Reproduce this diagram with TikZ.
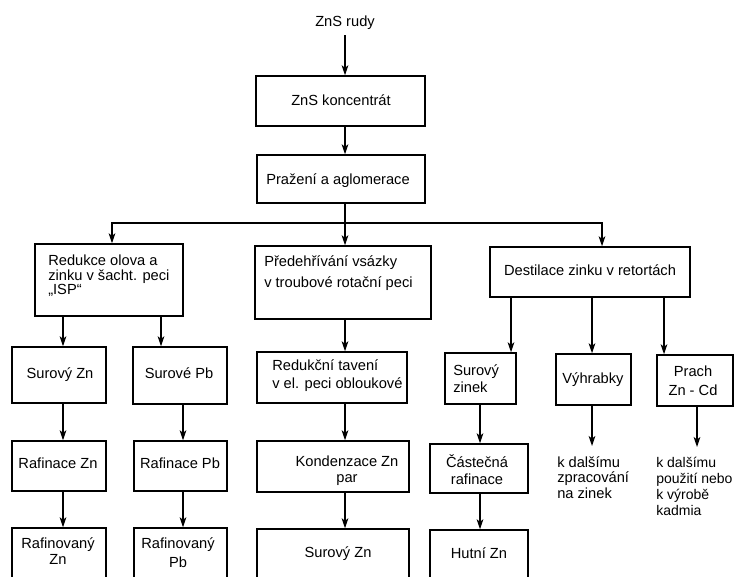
\documentclass[tikz,border=0pt]{standalone}
\usepackage{fontspec}
\setmainfont{Liberation Sans}
\usetikzlibrary{arrows.meta,fit}
\begin{document}
\begin{tikzpicture}[x=0.75pt,y=-0.75pt,
  box/.style={draw, line width=1.1pt, inner sep=0pt},
  txt/.style={inner sep=0pt, font=\fontsize{11pt}{12pt}\selectfont},
  flow/.style={line width=1.1pt, -{Stealth[length=7.5pt,width=5pt,inset=2pt]}},
  link/.style={line width=1.1pt}]
\useasboundingbox (0,0) rectangle (735,577);
\clip (0,0) rectangle (735,577);

% --- frames (fitted to their corners) ---
\node[box, fit={(256,76) (425,126)}]  (konc) {};
\node[box, fit={(257,155) (425,203)}] (praz) {};
\node[box, fit={(35,244) (183,316)}]  (redolov) {};
\node[box, fit={(255,246) (431,319)}] (pred) {};
\node[box, fit={(490,247) (690,297)}] (dest) {};
\node[box, fit={(12,347) (106,403)}]  (surZn) {};
\node[box, fit={(133,347) (227,404)}] (surPb) {};
\node[box, fit={(257,352) (407,403)}] (redtav) {};
\node[box, fit={(445,353) (516,404)}] (surzin) {};
\node[box, fit={(556,354) (631,405)}] (vyh) {};
\node[box, fit={(657,355) (733,406)}] (prach) {};
\node[box, fit={(12,441) (106,491)}]  (rafZn) {};
\node[box, fit={(134,441) (227,491)}] (rafPb) {};
\node[box, fit={(257,441) (409,492)}] (kond) {};
\node[box, fit={(430,444) (528,493)}] (cast) {};
% bottom row runs past the lower edge
\node[box, fit={(12,528) (106,600)}]  (rfdZn) {};
\node[box, fit={(134,528) (227,600)}] (rfdPb) {};
\node[box, fit={(257,529) (409,600)}] (surZn2) {};
\node[box, fit={(430,530) (528,600)}] (hutni) {};

% --- texts (multi-line ones are placed by the baseline of their last line) ---
\node[txt, anchor=base] (t-rudy) at (345,27) {ZnS rudy};
\node[txt, anchor=base] (t-konc) at (341,106) {ZnS koncentrát};
\node[txt, anchor=base west] (t-praz) at (266,185) {Pražení a aglomerace};
\node[txt, anchor=base west, align=left, font=\fontsize{11pt}{10.9pt}\selectfont] (t-redolov) at (48,295)
  {Redukce olova a\\zinku v šacht. peci\\„ISP“};
\node[txt, anchor=base west, align=left, font=\fontsize{11pt}{15.75pt}\selectfont] (t-pred) at (264,287)
  {Předehřívání vsázky\\v troubové rotační peci};
\node[txt, anchor=base] (t-dest) at (590,276) {Destilace zinku v retortách};
\node[txt, anchor=base] (t-surZn) at (60,378) {Surový Zn};
\node[txt, anchor=base] (t-surPb) at (179,378) {Surové Pb};
\node[txt, anchor=base west, align=left, font=\fontsize{11pt}{13.5pt}\selectfont] (t-redtav) at (272,388)
  {Redukční tavení\\v el. peci obloukové};
\node[txt, anchor=base west, align=left, font=\fontsize{11pt}{12.75pt}\selectfont] (t-surzin) at (453,392)
  {Surový\\zinek};
\node[txt, anchor=base] (t-vyh) at (593,383) {Výhrabky};
\node[txt, anchor=base, align=center, font=\fontsize{11pt}{14.25pt}\selectfont] (t-prach) at (693,395)
  {Prach\\Zn - Cd};
\node[txt, anchor=base] (t-rafZn) at (58,468) {Rafinace Zn};
\node[txt, anchor=base] (t-rafPb) at (180,468) {Rafinace Pb};
\node[txt, anchor=base, align=center] (t-kond) at (347,482) {Kondenzace Zn\\par};
\node[txt, anchor=base, align=center, font=\fontsize{11pt}{12.75pt}\selectfont] (t-cast) at (477,484)
  {Částečná\\rafinace};
\node[txt, anchor=base west, align=left, font=\fontsize{11pt}{11.6pt}\selectfont] (t-vyhnote) at (557,498)
  {k dalšímu\\zpracování\\na zinek};
\node[txt, anchor=base west, align=left, font=\fontsize{10.5pt}{12pt}\selectfont] (t-prachnote) at (656,515)
  {k dalšímu\\použití nebo\\k výrobě\\kadmia};
\node[txt, anchor=base, align=center] (t-rfdZn) at (58,564) {Rafinovaný\\Zn};
\node[txt, anchor=base, align=center, font=\fontsize{11pt}{14pt}\selectfont] (t-rfdPb) at (178,567) {Rafinovaný\\Pb};
\node[txt, anchor=base] (t-surZn2) at (338,557) {Surový Zn};
\node[txt, anchor=base] (t-hutni) at (479,558) {Hutní Zn};

% --- column positions of the connectors ---
\coordinate (cM)  at (345,0);
\coordinate (cA)  at (63,0);
\coordinate (cB)  at (161,0);
\coordinate (cB2) at (183,0);
\coordinate (cL)  at (112,0);
\coordinate (cR)  at (602,0);
\coordinate (cZ1) at (511,0);
\coordinate (cZ2) at (480,0);
\coordinate (cV)  at (592,0);
\coordinate (cP1) at (664,0);
\coordinate (cP2) at (697,0);
\coordinate (split) at (345,223);
\coordinate (vyhEnd) at (592,446);
\coordinate (prachEnd) at (697,447);

% --- connectors ---
\draw[flow] (t-rudy.south) ++(0,5) -- (konc.north -| cM);
\draw[flow] (konc.south -| cM) -- (praz.north -| cM);
\draw[flow] (praz.south -| cM) -- (pred.north -| cM);
\draw[flow] (split) -| (redolov.north -| cL);
\draw[flow] (split) -| (dest.north -| cR);

\draw[flow] (redolov.south -| cA) -- (surZn.north -| cA);
\draw[flow] (redolov.south -| cB) -- (surPb.north -| cB);
\draw[flow] (surZn.south -| cA) -- (rafZn.north -| cA);
\draw[flow] (surPb.south -| cB2) -- (rafPb.north -| cB2);
\draw[flow] (rafZn.south -| cA) -- (rfdZn.north -| cA);
\draw[flow] (rafPb.south -| cB2) -- (rfdPb.north -| cB2);

\draw[flow] (pred.south -| cM) -- (redtav.north -| cM);
\draw[flow] (redtav.south -| cM) -- (kond.north -| cM);
\draw[flow] (kond.south -| cM) -- (surZn2.north -| cM);

\draw[flow] (dest.south -| cZ1) -- (surzin.north -| cZ1);
\draw[flow] (dest.south -| cV) -- (vyh.north -| cV);
\draw[flow] (dest.south -| cP1) -- (prach.north -| cP1);
\draw[flow] (surzin.south -| cZ2) -- (cast.north -| cZ2);
\draw[flow] (cast.south -| cZ2) -- (hutni.north -| cZ2);
\draw[flow] (vyh.south -| cV) -- (vyhEnd);
\draw[flow] (prach.south -| cP2) -- (prachEnd);
\end{tikzpicture}
\end{document}
